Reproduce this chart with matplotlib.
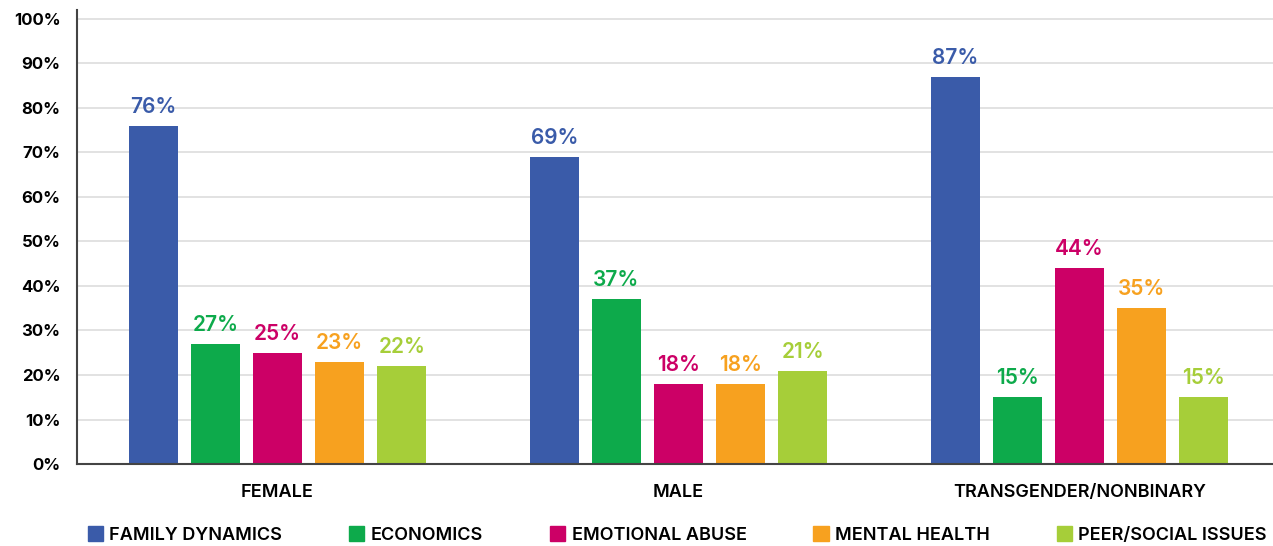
import numpy as np
import matplotlib.pyplot as plt
from matplotlib.patches import Patch

plt.rcParams['font.family'] = ['Inter', 'DejaVu Sans']

# data
groups = ['FEMALE', 'MALE', 'TRANSGENDER/NONBINARY']
series = ['FAMILY DYNAMICS', 'ECONOMICS', 'EMOTIONAL ABUSE', 'MENTAL HEALTH', 'PEER/SOCIAL ISSUES']
family = [76, 69, 87]
economics = [27, 37, 15]
emotional = [25, 18, 44]
mental = [23, 18, 35]
peer = [22, 21, 15]
colors = ['#3A5BA9', '#0DAA4B', '#CC0066', '#F7A11F', '#A6CE39']

values = [family, economics, emotional, mental, peer]
x = np.arange(len(groups))
step = 0.155
width = 0.122

fig = plt.figure(figsize=(12.73, 5.46), dpi=100)
ax = fig.add_axes([0.0605, 0.150, 0.945, 0.832])

for i, (name, vals, c) in enumerate(zip(series, values, colors)):
    pos = x + (i - 2) * step
    ax.bar(pos, vals, width=width, color=c, zorder=3, label=name)
    for p, v in zip(pos, vals):
        ax.annotate(f'{v}%', (p, v), xytext=(0, 6.5), textcoords='offset points',
                    ha='center', va='bottom', color=c, fontsize=15, fontweight='semibold')

ax.set_xlim(-0.5, 2.5)
ax.set_ylim(0, 102)
ax.set_yticks(range(0, 101, 10))
ax.set_yticklabels([f'{t}%' for t in range(0, 101, 10)], fontsize=12, fontweight='bold')
ax.set_xticks(x)
ax.set_xticklabels(groups, fontsize=13, fontweight='semibold')
ax.tick_params(axis='both', length=0)
ax.tick_params(axis='x', pad=14)
ax.tick_params(axis='y', pad=12)
ax.grid(axis='y', color='#DDDDDD', linewidth=1.2, zorder=0)
for s in ['top', 'right']:
    ax.spines[s].set_visible(False)
for s in ['left', 'bottom']:
    ax.spines[s].set_color('#444444')
    ax.spines[s].set_linewidth(1.5)
    ax.spines[s].set_zorder(4)

handles = [Patch(color=c) for c in colors]
fig.legend(handles, series, ncol=5, loc='lower center', bbox_to_anchor=(0.532, -0.026),
           frameon=False, handlelength=0.85, handleheight=0.85, handletextpad=0.35,
           columnspacing=3.7, prop={'size': 13, 'weight': 'semibold'})

fig.savefig('out.png', dpi=100)
